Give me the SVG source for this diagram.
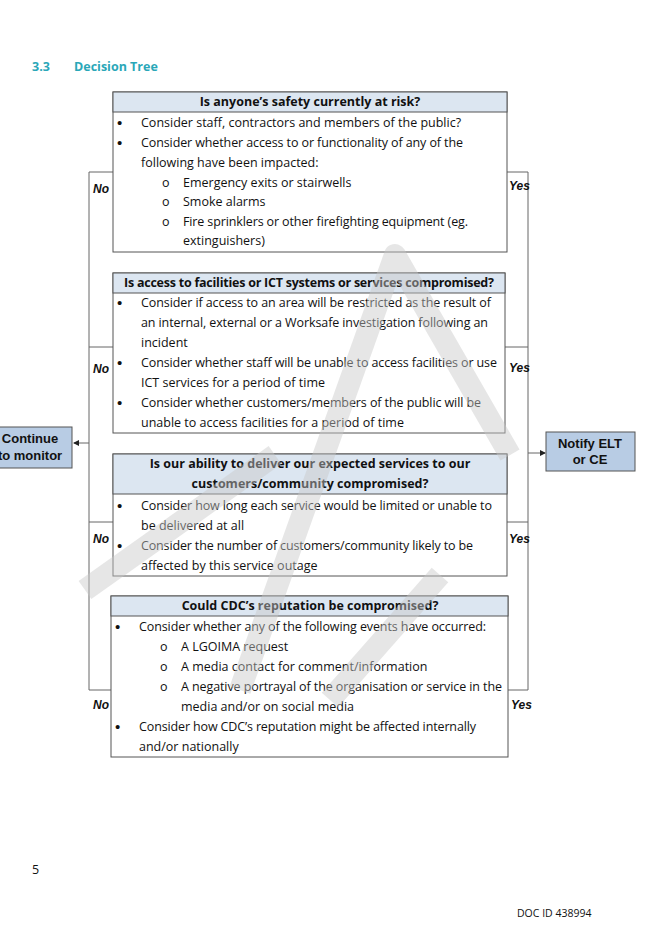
<svg xmlns="http://www.w3.org/2000/svg" width="645" height="934" viewBox="0 0 645 934">
<style>
.t{font-family:"Open Sans","Liberation Sans",sans-serif;font-size:12.5px;fill:#111}
.b{font-family:"Liberation Sans",sans-serif;font-size:15px;fill:#111}
.h{font-family:"Open Sans","Liberation Sans",sans-serif;font-size:12.5px;font-weight:bold;fill:#111}
.yn{font-family:"Liberation Sans",sans-serif;font-size:12px;font-weight:bold;font-style:italic;fill:#111}
.ob{font-family:"Liberation Sans",sans-serif;font-size:13px;font-weight:bold;fill:#111}
.box{fill:#fff;stroke:#555;stroke-width:1}
.hd{fill:#dce6f1;stroke:#555;stroke-width:1}
.ln{fill:none;stroke:#666;stroke-width:1}
.wm{fill:none;stroke:#c8c8c8;stroke-width:22;stroke-linejoin:round;opacity:0.45}
</style>
<defs><marker id="a" markerWidth="6" markerHeight="6" refX="5" refY="3" orient="auto"><path d="M0,0L6,3L0,6z" fill="#222"/></marker></defs>
<text x="32" y="71" font-family="'Open Sans','Liberation Sans',sans-serif" font-size="12.5" font-weight="bold" fill="#2aa7b8">3.3</text>
<text x="74" y="71" font-family="'Open Sans','Liberation Sans',sans-serif" font-size="12.5" font-weight="bold" fill="#2aa7b8">Decision Tree</text>
<g id="connectors">
<path class="ln" d="M113,172H89V690H111M89,347H113M89,522H113"/>
<path class="ln" d="M507,172H528V690H508M505,347H528M507,522H528"/>
<path class="ln" d="M89,443H74" marker-end="url(#a)"/>
<path class="ln" d="M528,453H545" marker-end="url(#a)"/>
<text class="yn" x="93" y="193">No</text><text class="yn" x="93" y="373">No</text><text class="yn" x="93" y="543">No</text><text class="yn" x="93" y="709">No</text>
<text class="yn" x="509" y="190">Yes</text><text class="yn" x="509" y="372">Yes</text><text class="yn" x="509" y="543">Yes</text><text class="yn" x="511" y="709">Yes</text>
</g>
<g id="continue"><rect x="-2" y="427" width="74" height="41" fill="#b8cce4" stroke="#555"/><text class="ob" x="30" y="443" text-anchor="middle">Continue</text><text class="ob" x="30" y="460" text-anchor="middle">to monitor</text></g>
<g id="notify"><rect x="546" y="432" width="89" height="39" fill="#b8cce4" stroke="#555"/><text class="ob" x="590" y="448" text-anchor="middle">Notify ELT</text><text class="ob" x="590" y="464" text-anchor="middle">or CE</text></g>
<g id="q1">
<rect class="box" x="113" y="92" width="394" height="160"/><rect class="hd" x="113" y="92" width="394" height="20"/>
<text class="h" x="310" y="106" text-anchor="middle">Is anyone’s safety currently at risk?</text>
<text class="b" x="117" y="128">•</text><text class="t" x="141" y="127">Consider staff, contractors and members of the public?</text>
<text class="b" x="117" y="148">•</text><text class="t" x="141" y="147" textLength="322">Consider whether access to or functionality of any of the</text>
<text class="t" x="141" y="167">following have been impacted:</text>
<text class="t" x="162" y="187">o</text><text class="t" x="183" y="187">Emergency exits or stairwells</text>
<text class="t" x="162" y="206">o</text><text class="t" x="183" y="206">Smoke alarms</text>
<text class="t" x="162" y="226">o</text><text class="t" x="183" y="226" textLength="285">Fire sprinklers or other firefighting equipment (eg.</text>
<text class="t" x="183" y="245">extinguishers)</text>
</g>
<g id="q2">
<rect class="box" x="113" y="273" width="392" height="160"/><rect class="hd" x="113" y="273" width="392" height="20"/>
<text class="h" x="309" y="287" text-anchor="middle" textLength="370">Is access to facilities or ICT systems or services compromised?</text>
<text class="b" x="117" y="308">•</text><text class="t" x="141" y="307" textLength="350">Consider if access to an area will be restricted as the result of</text>
<text class="t" x="141" y="327" textLength="347">an internal, external or a Worksafe investigation following an</text>
<text class="t" x="141" y="347">incident</text>
<text class="b" x="117" y="368">•</text><text class="t" x="141" y="367" textLength="356">Consider whether staff will be unable to access facilities or use</text>
<text class="t" x="141" y="387">ICT services for a period of time</text>
<text class="b" x="117" y="408">•</text><text class="t" x="141" y="407" textLength="340">Consider whether customers/members of the public will be</text>
<text class="t" x="141" y="427">unable to access facilities for a period of time</text>
</g>
<g id="q3">
<rect class="box" x="113" y="454" width="394" height="122"/><rect class="hd" x="113" y="454" width="394" height="40"/>
<text class="h" x="310" y="468" text-anchor="middle">Is our ability to deliver our expected services to our</text>
<text class="h" x="310" y="488" text-anchor="middle">customers/community compromised?</text>
<text class="b" x="117" y="511">•</text><text class="t" x="141" y="510" textLength="351">Consider how long each service would be limited or unable to</text>
<text class="t" x="141" y="530">be delivered at all</text>
<text class="b" x="117" y="551">•</text><text class="t" x="141" y="550" textLength="332">Consider the number of customers/community likely to be</text>
<text class="t" x="141" y="570">affected by this service outage</text>
</g>
<g id="q4">
<rect class="box" x="111" y="596" width="397" height="161"/><rect class="hd" x="111" y="596" width="397" height="20"/>
<text class="h" x="310" y="610" text-anchor="middle">Could CDC’s reputation be compromised?</text>
<text class="b" x="115" y="632">•</text><text class="t" x="139" y="631" textLength="347">Consider whether any of the following events have occurred:</text>
<text class="t" x="160" y="651">o</text><text class="t" x="181" y="651">A LGOIMA request</text>
<text class="t" x="160" y="671">o</text><text class="t" x="181" y="671">A media contact for comment/information</text>
<text class="t" x="160" y="691">o</text><text class="t" x="181" y="691" textLength="321">A negative portrayal of the organisation or service in the</text>
<text class="t" x="181" y="711">media and/or on social media</text>
<text class="b" x="115" y="732">•</text><text class="t" x="139" y="731" textLength="337">Consider how CDC’s reputation might be affected internally</text>
<text class="t" x="139" y="751">and/or nationally</text>
</g>
<g id="watermark">
<path class="wm" d="M85,590 L275,455"/>
<path class="wm" d="M240,690 L395,255 L510,455"/>
<path class="wm" d="M330,700 L440,575"/>
</g>
<text x="32" y="874" font-family="'Open Sans','Liberation Sans',sans-serif" font-size="12.5" fill="#111">5</text>
<text x="517" y="917" font-family="'Open Sans','Liberation Sans',sans-serif" font-size="10.5" fill="#111">DOC ID 438994</text>
</svg>
